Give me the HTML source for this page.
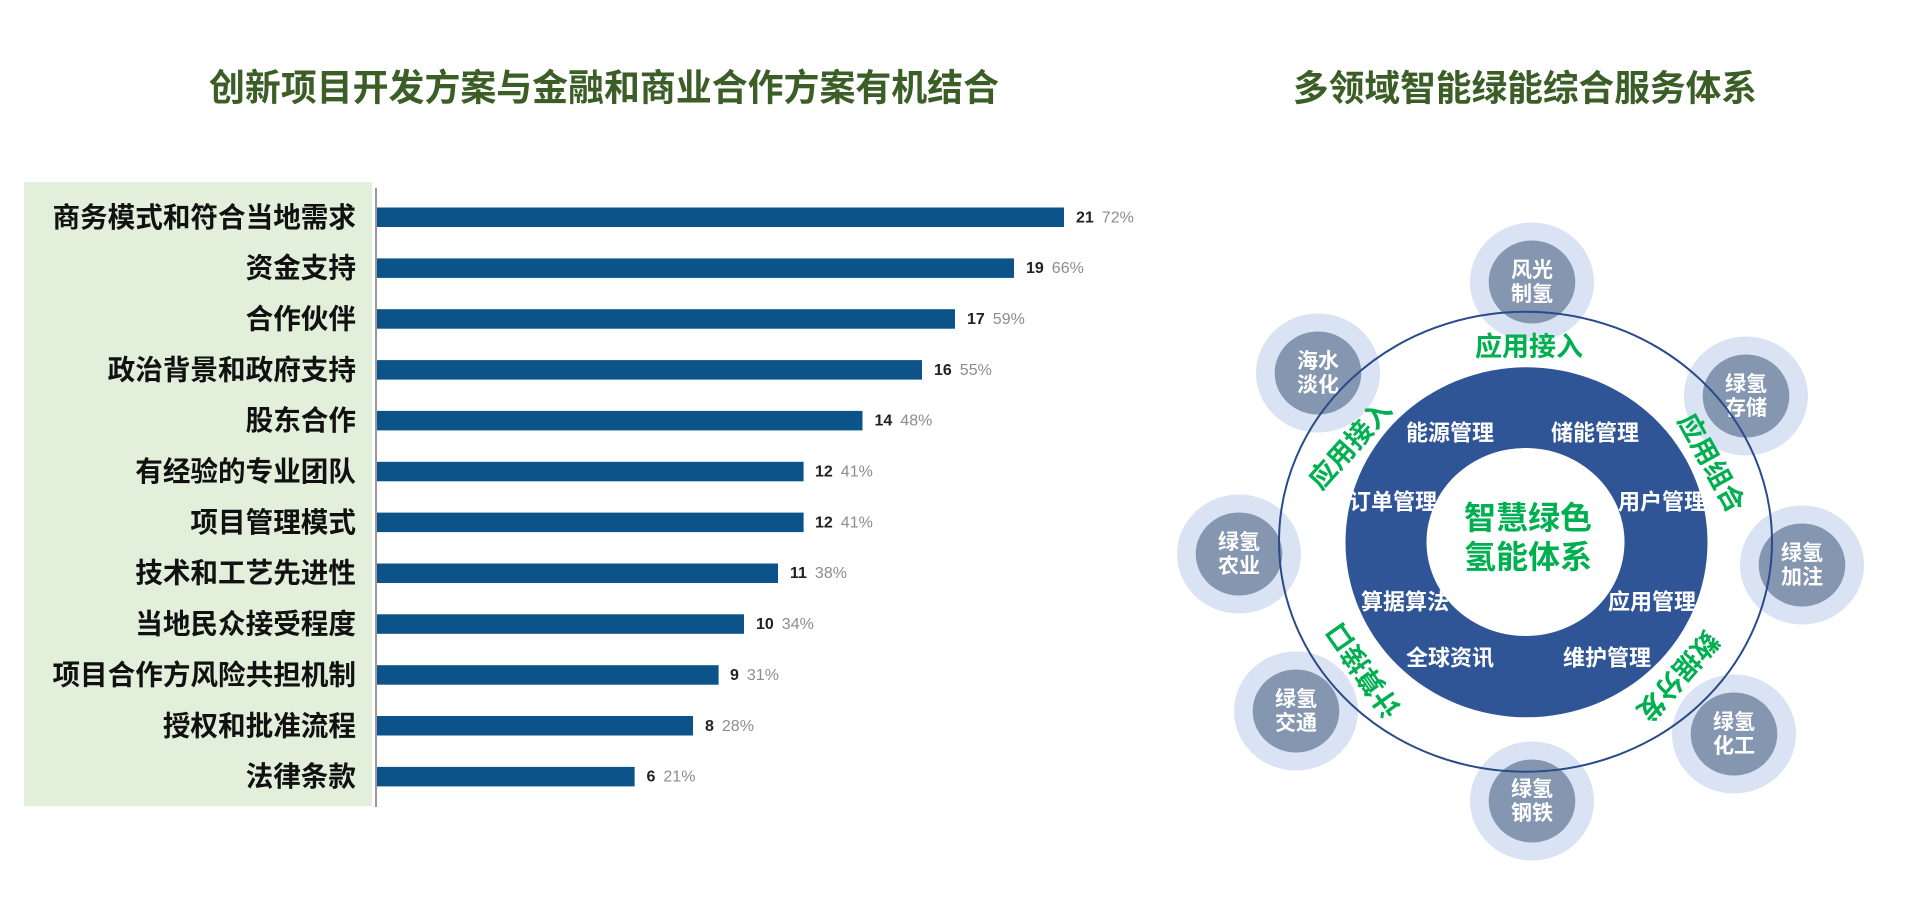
<!DOCTYPE html>
<html>
<head>
<meta charset="utf-8">
<style>
  html,body{margin:0;padding:0;background:#fff;}
  body{width:1920px;height:922px;overflow:hidden;}
  svg{display:block;}
  text{font-family:"Liberation Sans","Noto Sans CJK SC",sans-serif;}
</style>
</head>
<body>
<svg width="1920" height="922" viewBox="0 0 1920 922" xmlns="http://www.w3.org/2000/svg">
  <rect width="1920" height="922" fill="#ffffff"/>

  <!-- Titles -->
  <text x="604" y="88" text-anchor="middle" dominant-baseline="central" font-size="37" font-weight="700" fill="#3b5e27" textLength="790" lengthAdjust="spacingAndGlyphs">创新项目开发方案与金融和商业合作方案有机结合</text>
  <text x="1525" y="88" text-anchor="middle" dominant-baseline="central" font-size="36" font-weight="700" fill="#3b5e27" textLength="464" lengthAdjust="spacingAndGlyphs">多领域智能绿能综合服务体系</text>

  <!-- Left chart -->
  <rect x="24" y="182" width="348" height="624" fill="#e2efda"/>
  <line x1="376" y1="188" x2="376" y2="807" stroke="#999999" stroke-width="2"/>

  <g font-weight="700" font-size="27.6" fill="#111111" text-anchor="end">
    <text x="356" y="217.3" dominant-baseline="central">商务模式和符合当地需求</text>
    <text x="356" y="268.1" dominant-baseline="central">资金支持</text>
    <text x="356" y="319.0" dominant-baseline="central">合作伙伴</text>
    <text x="356" y="369.8" dominant-baseline="central">政治背景和政府支持</text>
    <text x="356" y="420.7" dominant-baseline="central">股东合作</text>
    <text x="356" y="471.5" dominant-baseline="central">有经验的专业团队</text>
    <text x="356" y="522.4" dominant-baseline="central">项目管理模式</text>
    <text x="356" y="573.2" dominant-baseline="central">技术和工艺先进性</text>
    <text x="356" y="624.1" dominant-baseline="central">当地民众接受程度</text>
    <text x="356" y="674.9" dominant-baseline="central">项目合作方风险共担机制</text>
    <text x="356" y="725.8" dominant-baseline="central">授权和批准流程</text>
    <text x="356" y="776.6" dominant-baseline="central">法律条款</text>
  </g>

  <g fill="#0b5389">
    <rect x="377" y="207.5" width="687" height="19.5"/>
    <rect x="377" y="258.4" width="637" height="19.5"/>
    <rect x="377" y="309.2" width="578" height="19.5"/>
    <rect x="377" y="360.1" width="545" height="19.5"/>
    <rect x="377" y="410.9" width="485.5" height="19.5"/>
    <rect x="377" y="461.8" width="426.6" height="19.5"/>
    <rect x="377" y="512.6" width="426.6" height="19.5"/>
    <rect x="377" y="563.5" width="401" height="19.5"/>
    <rect x="377" y="614.3" width="367" height="19.5"/>
    <rect x="377" y="665.2" width="341.6" height="19.5"/>
    <rect x="377" y="716.0" width="316" height="19.5"/>
    <rect x="377" y="766.9" width="257.6" height="19.5"/>
  </g>

  <g font-size="16">
    <text x="1076" y="217.3" dominant-baseline="central"><tspan font-weight="700" fill="#222">21</tspan><tspan dx="8" fill="#8c8c8c">72%</tspan></text>
    <text x="1026" y="268.1" dominant-baseline="central"><tspan font-weight="700" fill="#222">19</tspan><tspan dx="8" fill="#8c8c8c">66%</tspan></text>
    <text x="967" y="319.0" dominant-baseline="central"><tspan font-weight="700" fill="#222">17</tspan><tspan dx="8" fill="#8c8c8c">59%</tspan></text>
    <text x="934" y="369.8" dominant-baseline="central"><tspan font-weight="700" fill="#222">16</tspan><tspan dx="8" fill="#8c8c8c">55%</tspan></text>
    <text x="874.5" y="420.7" dominant-baseline="central"><tspan font-weight="700" fill="#222">14</tspan><tspan dx="8" fill="#8c8c8c">48%</tspan></text>
    <text x="815" y="471.5" dominant-baseline="central"><tspan font-weight="700" fill="#222">12</tspan><tspan dx="8" fill="#8c8c8c">41%</tspan></text>
    <text x="815" y="522.4" dominant-baseline="central"><tspan font-weight="700" fill="#222">12</tspan><tspan dx="8" fill="#8c8c8c">41%</tspan></text>
    <text x="790" y="573.2" dominant-baseline="central"><tspan font-weight="700" fill="#222">11</tspan><tspan dx="8" fill="#8c8c8c">38%</tspan></text>
    <text x="756" y="624.1" dominant-baseline="central"><tspan font-weight="700" fill="#222">10</tspan><tspan dx="8" fill="#8c8c8c">34%</tspan></text>
    <text x="730" y="674.9" dominant-baseline="central"><tspan font-weight="700" fill="#222">9</tspan><tspan dx="8" fill="#8c8c8c">31%</tspan></text>
    <text x="705" y="725.8" dominant-baseline="central"><tspan font-weight="700" fill="#222">8</tspan><tspan dx="8" fill="#8c8c8c">28%</tspan></text>
    <text x="646.5" y="776.6" dominant-baseline="central"><tspan font-weight="700" fill="#222">6</tspan><tspan dx="8" fill="#8c8c8c">21%</tspan></text>
  </g>

  <!-- Right diagram -->
  <!-- donut -->
  <ellipse cx="1526.5" cy="542.3" rx="181" ry="175" fill="#2f5597"/>
  <ellipse cx="1525.5" cy="542" rx="99" ry="94" fill="#ffffff"/>

  <!-- satellites -->
  <g>
    <ellipse cx="1532" cy="282" rx="62" ry="59.5" fill="#dae3f3"/>
    <ellipse cx="1532" cy="282" rx="43.3" ry="41.5" fill="#8596b0"/>
    <ellipse cx="1318" cy="373" rx="62" ry="59.5" fill="#dae3f3"/>
    <ellipse cx="1318" cy="373" rx="43.3" ry="41.5" fill="#8596b0"/>
    <ellipse cx="1746" cy="396" rx="62" ry="59.5" fill="#dae3f3"/>
    <ellipse cx="1746" cy="396" rx="43.3" ry="41.5" fill="#8596b0"/>
    <ellipse cx="1239" cy="554" rx="62" ry="59.5" fill="#dae3f3"/>
    <ellipse cx="1239" cy="554" rx="43.3" ry="41.5" fill="#8596b0"/>
    <ellipse cx="1802" cy="565" rx="62" ry="59.5" fill="#dae3f3"/>
    <ellipse cx="1802" cy="565" rx="43.3" ry="41.5" fill="#8596b0"/>
    <ellipse cx="1296" cy="711" rx="62" ry="59.5" fill="#dae3f3"/>
    <ellipse cx="1296" cy="711" rx="43.3" ry="41.5" fill="#8596b0"/>
    <ellipse cx="1734" cy="734" rx="62" ry="59.5" fill="#dae3f3"/>
    <ellipse cx="1734" cy="734" rx="43.3" ry="41.5" fill="#8596b0"/>
    <ellipse cx="1532" cy="801" rx="62" ry="59.5" fill="#dae3f3"/>
    <ellipse cx="1532" cy="801" rx="43.3" ry="41.5" fill="#8596b0"/>
  </g>

  <g font-size="21" font-weight="700" fill="#ffffff" text-anchor="middle">
    <text x="1532" y="270.5" dominant-baseline="central">风光</text>
    <text x="1532" y="294.5" dominant-baseline="central">制氢</text>
    <text x="1318" y="361.5" dominant-baseline="central">海水</text>
    <text x="1318" y="385.5" dominant-baseline="central">淡化</text>
    <text x="1746" y="384.5" dominant-baseline="central">绿氢</text>
    <text x="1746" y="408.5" dominant-baseline="central">存储</text>
    <text x="1239" y="542.5" dominant-baseline="central">绿氢</text>
    <text x="1239" y="566.5" dominant-baseline="central">农业</text>
    <text x="1802" y="553.5" dominant-baseline="central">绿氢</text>
    <text x="1802" y="577.5" dominant-baseline="central">加注</text>
    <text x="1296" y="699.5" dominant-baseline="central">绿氢</text>
    <text x="1296" y="723.5" dominant-baseline="central">交通</text>
    <text x="1734" y="722.5" dominant-baseline="central">绿氢</text>
    <text x="1734" y="746.5" dominant-baseline="central">化工</text>
    <text x="1532" y="789.5" dominant-baseline="central">绿氢</text>
    <text x="1532" y="813.5" dominant-baseline="central">钢铁</text>
  </g>

  <!-- outer ring -->
  <ellipse cx="1525.5" cy="541.7" rx="246.5" ry="230" fill="none" stroke="#2a4a8a" stroke-width="2"/>

  <!-- inner white labels -->
  <g font-size="22" font-weight="700" fill="#ffffff" text-anchor="middle">
    <text x="1450" y="433" dominant-baseline="central">能源管理</text>
    <text x="1595" y="433" dominant-baseline="central">储能管理</text>
    <text x="1393" y="502" dominant-baseline="central">订单管理</text>
    <text x="1662" y="502" dominant-baseline="central">用户管理</text>
    <text x="1405" y="602" dominant-baseline="central">算据算法</text>
    <text x="1652" y="602" dominant-baseline="central">应用管理</text>
    <text x="1450" y="658" dominant-baseline="central">全球资讯</text>
    <text x="1607" y="658" dominant-baseline="central">维护管理</text>
  </g>

  <!-- center text -->
  <g font-size="32" font-weight="700" fill="#00b050" text-anchor="middle">
    <text x="1528" y="518" dominant-baseline="central">智慧绿色</text>
    <text x="1528" y="557" dominant-baseline="central">氢能体系</text>
  </g>

  <!-- green ring labels -->
  <g font-size="27" font-weight="700" fill="#00b050" text-anchor="middle">
    <text x="1529" y="347" dominant-baseline="central">应用接入</text>
    <text x="0" y="0" dominant-baseline="central" transform="translate(1350.5,445) rotate(-48)">应用接入</text>
    <text x="0" y="0" dominant-baseline="central" transform="translate(1711,463) rotate(61)">应用组合</text>
    <text x="0" y="0" dominant-baseline="central" transform="translate(1363.6,670) rotate(235)">计算接口</text>
    <text x="0" y="0" dominant-baseline="central" transform="translate(1677.5,675.8) rotate(131)">数据分发</text>
  </g>
</svg>
</body>
</html>
